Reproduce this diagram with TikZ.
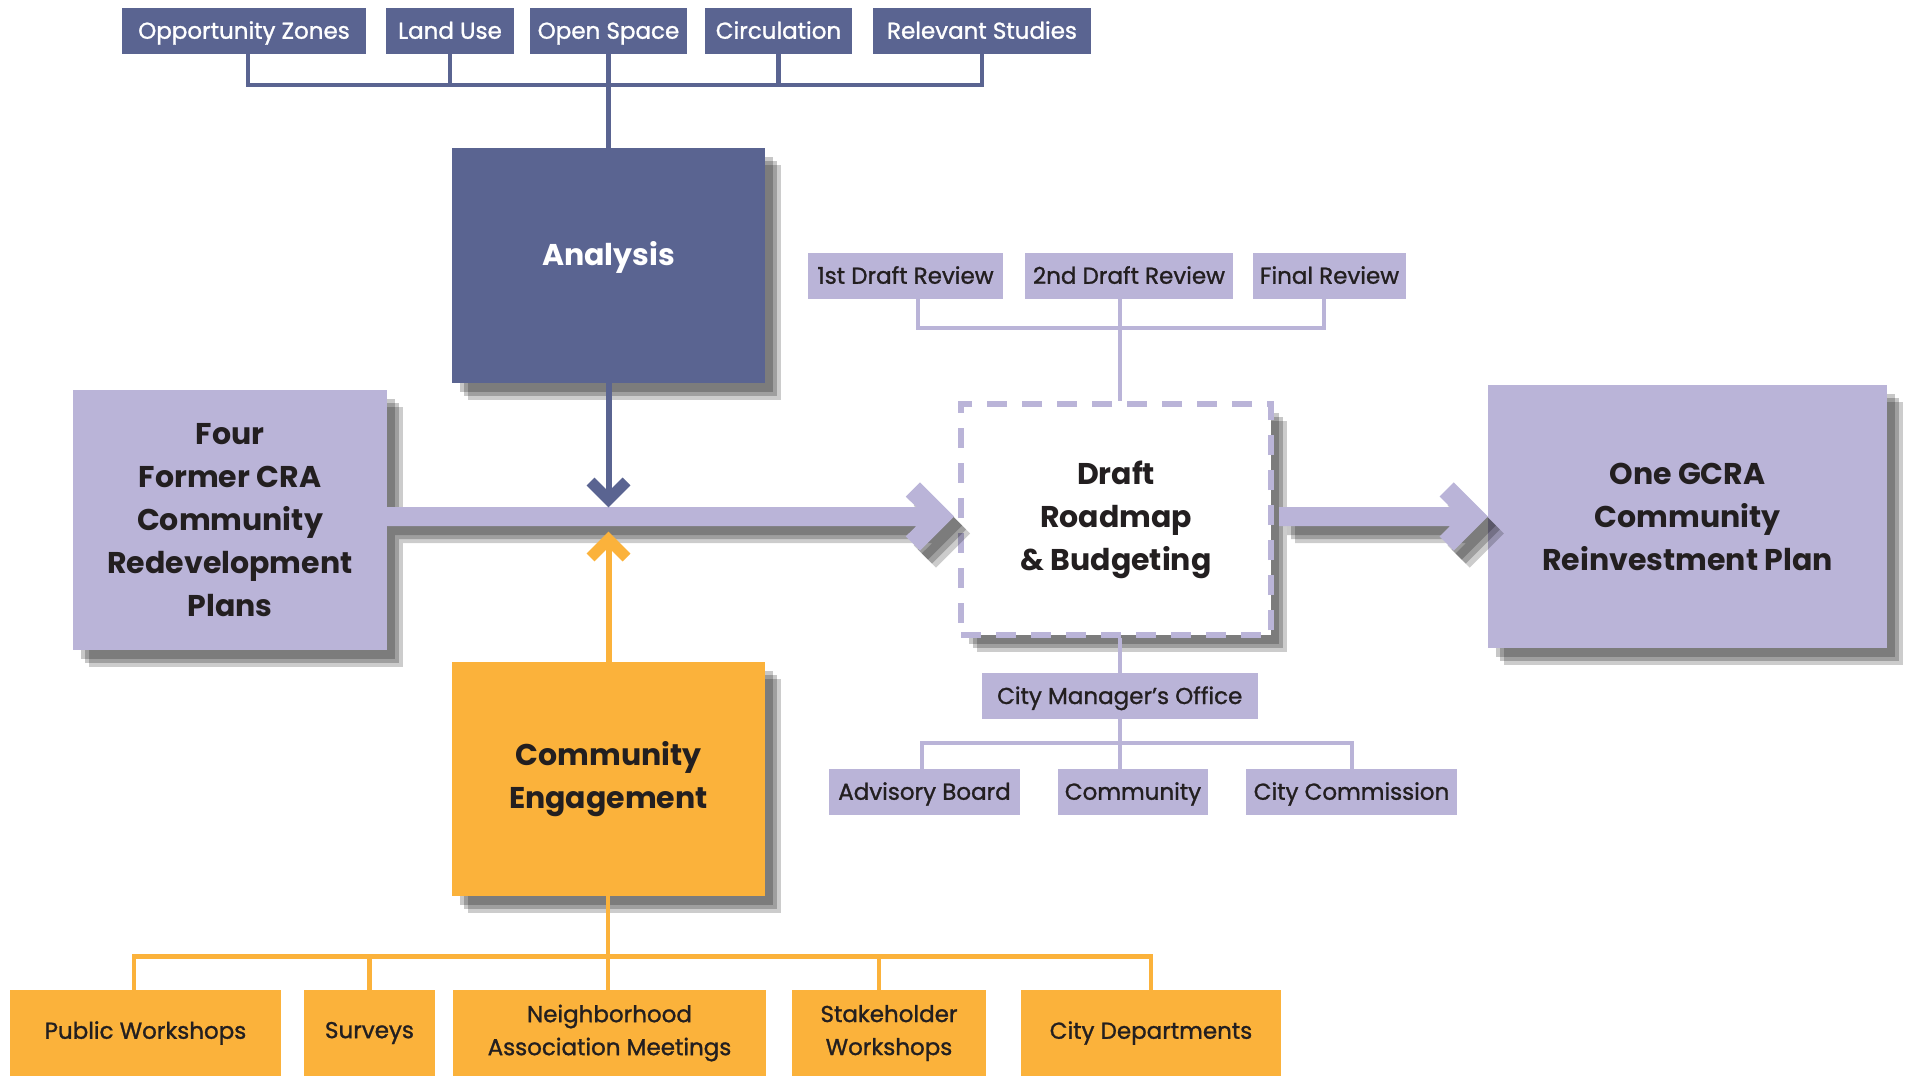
\documentclass[tikz,border=0pt]{standalone}
\usepackage{fontspec}
\setmainfont{Poppins}
\newfontfamily\tagfont{Poppins}[FakeBold=1.2]
\usepackage{tikz}
\usetikzlibrary{calc, shadows}
\definecolor{slate}{HTML}{5A6491}
\definecolor{lilac}{HTML}{BAB4D8}
\definecolor{amber}{HTML}{FBB23B}
\definecolor{ink}{HTML}{231F20}
\newcommand{\bandarrow}[2]{%
  \fill[bandfill] ([yshift=-9.5pt]#1) -- ($(#2)+(-37.7,9.5)$) -- ($(#2)+(-48.2,19.9)$) -- ($(#2)+(-34,34.1)$) -- (#2)
    -- ($(#2)+(-34,-34.1)$) -- ($(#2)+(-48.2,-19.9)$) -- ($(#2)+(-37.7,-9.5)$) -- ([yshift=9.5pt]#1) -- cycle;}
\tikzset{
  soft/.style={drop shadow={shadow xshift=8pt, shadow yshift=-9pt, fill=black, opacity=.22},
    drop shadow={shadow xshift=12pt, shadow yshift=-13pt, fill=black, opacity=.22},
    drop shadow={shadow xshift=16pt, shadow yshift=-17pt, fill=black, opacity=.2}},
  tag/.style={inner sep=0pt, minimum height=45.5pt, text height=16pt, text depth=0pt, text=ink, font=\fontsize{23}{28}\tagfont},
  darktag/.style={tag, fill=slate, text=white},
  lilactag/.style={tag, fill=lilac},
  ambertag/.style={tag, fill=amber, minimum height=86pt, text height=, text depth=, align=center, font=\fontsize{23}{33}\tagfont},
  bigbox/.style={inner sep=0pt, align=center, text=ink, soft, font=\fontsize{30}{43}\selectfont\bfseries},
  draftbox/.style={draw=lilac, line width=6pt, dash pattern=on 20pt off 15pt, fill=white},
  slateline/.style={draw=slate, line width=4.5pt},
  lilacline/.style={draw=lilac, line width=4pt},
  amberline/.style={draw=amber, line width=4.5pt},
  bandfill/.style={fill=lilac, soft},
  slatearrow/.style={draw=slate, line width=6pt},
  slatehead/.style={draw=slate, line width=11pt},
  amberarrow/.style={draw=amber, line width=6pt},
  amberhead/.style={draw=amber, line width=11pt}
}
\begin{document}
\begin{tikzpicture}[x=1pt, y=-1pt]
\useasboundingbox (0,0) rectangle (1906,1076);

\foreach \n/\x/\w/\txt in {oz/244/244/Opportunity Zones, lu/450/128/Land Use, os/608.5/157/Open Space, circ/778.5/147/Circulation, rs/982/218/Relevant Studies}
  \node[darktag, minimum width=\w pt] (\n) at (\x,30.75) {\txt};

\node[bigbox, fill=slate, text=white, text depth=24pt, minimum width=313pt, minimum height=235pt] (analysis) at (608.5,265.5) {Analysis};
\node[bigbox, fill=lilac, minimum width=314pt, minimum height=259.5pt] (four) at (230,519.75) {Four\\Former CRA\\Community\\Redevelopment\\Plans};
\node[bigbox, draftbox, minimum width=310pt, minimum height=231pt] (draft) at (1116,519.5) {Draft\\Roadmap\\\& Budgeting};
\node[bigbox, fill=lilac, minimum width=399pt, minimum height=263pt] (gcra) at (1687.5,516.5) {One GCRA\\Community\\Reinvestment Plan};
\node[bigbox, fill=amber, minimum width=313pt, minimum height=234.5pt] (engage) at (608.5,779) {Community\\Engagement};

\foreach \n/\x/\w/\txt in {rv1/905.5/195/1st Draft Review, rv2/1129/208/2nd Draft Review, rv3/1329.5/153/Final Review}
  \node[lilactag, minimum width=\w pt] (\n) at (\x,275.75) {\txt};
\node[lilactag, minimum width=275.5pt] (cmo) at (1119.75,696) {City Manager’s Office};
\foreach \n/\x/\w/\txt in {ab/924.5/191/Advisory Board, com/1133/150/Community, cc/1351.5/211/City Commission}
  \node[lilactag, minimum width=\w pt] (\n) at (\x,791.75) {\txt};

\foreach \n/\x/\w/\txt in {pw/145.5/271/Public Workshops, sv/369.5/131/Surveys, nam/609.5/313/{Neighborhood\\Association Meetings}, sw/889/194/{Stakeholder\\Workshops}, cd/1151/260/City Departments}
  \node[ambertag, minimum width=\w pt] (\n) at (\x,1033) {\txt};

\coordinate (topbus) at (0,85);
\draw[slateline] ([xshift=4pt]oz.south) |- (rs.south |- topbus) -- (rs.south);
\foreach \n in {lu, circ} \draw[slateline] (\n.south) -- (\n.south |- topbus);
\draw[slateline] (os.south) -- (analysis.north);

\coordinate (spine) at (1120,0);
\coordinate (revbus) at (0,327.6);
\coordinate (cmobus) at (0,743);
\draw[lilacline] ([xshift=12.5pt]rv1.south) |- ([xshift=-5.5pt]rv3.south |- revbus) -- ([xshift=-5.5pt]rv3.south);
\draw[lilacline] (rv2.south -| spine) -- (draft.north -| spine);
\draw[lilacline] (draft.south -| spine) -- (cmo.north -| spine);
\draw[lilacline] ([xshift=-2.5pt]ab.north) |- (cc.north |- cmobus) -- (cc.north);
\draw[lilacline] (cmo.south -| spine) -- (com.north -| spine);

\coordinate (axis) at (608,0);
\coordinate (ambus) at (0,956.6);
\draw[amberline] ([xshift=-11.5pt]pw.north) |- (cd.north |- ambus) -- (cd.north);
\draw[amberline] (sv.north) -- (sv.north |- ambus);
\draw[amberline] ([xshift=-10pt]sw.north) -- ([xshift=-10pt]sw.north |- ambus);
\draw[amberline] (engage.south -| axis) -- (nam.north -| axis);

\coordinate (mid) at (0,516.5);
\coordinate (b1) at (four.east |- mid);
\coordinate (t1) at ($(draft.west |- mid)+(-4,0)$);
\coordinate (b2) at ([xshift=5pt]draft.east |- mid);
\coordinate (t2) at (gcra.west |- mid);
\bandarrow{b1}{t1}
\bandarrow{b2}{t2}

\draw[slatearrow] (analysis.south) -- ($(analysis.south |- mid)+(0,-17)$);
\draw[slatehead] ($(analysis.south |- mid)+(-18,-35)$) -- ++(18,18) -- ++(18,-18);
\draw[amberarrow] (engage.north) -- ($(engage.north |- mid)+(0,23)$);
\draw[amberhead] ($(engage.north |- mid)+(-18,41)$) -- ++(18,-18) -- ++(18,18);

\end{tikzpicture}
\end{document}
